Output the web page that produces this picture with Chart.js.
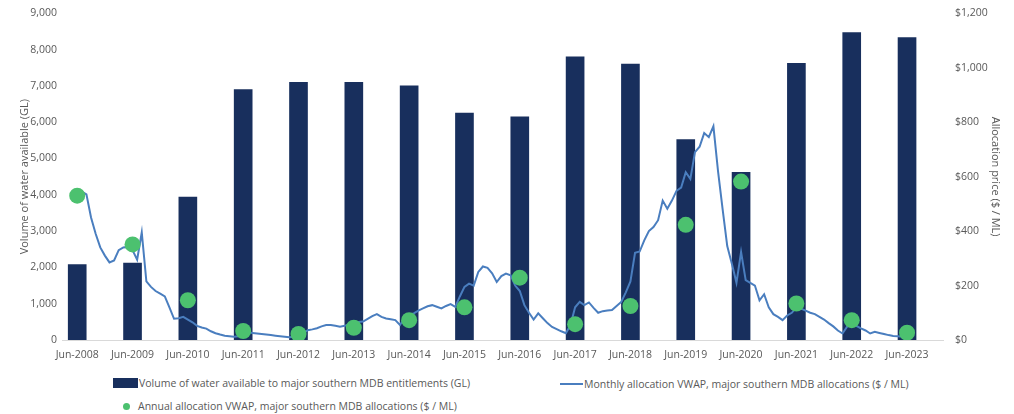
<!DOCTYPE html>
<html>
<head>
<meta charset="utf-8">
<script src="https://cdn.jsdelivr.net/npm/chart.js@4"></script>
<style>
    body { margin: 0; background: #fff; font-family: 'Open Sans', sans-serif; overflow: hidden; }
    #wrap { position: relative; width: 1014px; height: 414px; overflow: hidden; }
    #chartBox { position: absolute; left: 0; top: -5px; width: 1014px; height: 375px; }
    .item { position: absolute; font-size: 10.5px; color: #595959; white-space: nowrap; line-height: 14px; }
    .swatch { display: inline-block; vertical-align: middle; margin-right: 1px; }
</style>
</head>
<body>
<div id="wrap">
    <div id="chartBox"><canvas id="myChart"></canvas></div>
    <div class="item" style="left:113px; top:376px;">
        <span class="swatch" style="width:25px; height:10px; background:#182f5d; margin-top:-2px;"></span>Volume of water available to major southern MDB entitlements (GL)
    </div>
    <div class="item" style="left:560px; top:377px;">
        <span class="swatch" style="width:23px; height:2px; background:#4a7ebf; margin-top:-2px;"></span>Monthly allocation VWAP, major southern MDB allocations ($ / ML)
    </div>
    <div class="item" style="left:123px; top:399px;">
        <span class="swatch" style="width:7px; height:7px; border-radius:50%; background:#4cc16f; margin-right:8px; margin-top:-2px;"></span>Annual allocation VWAP, major southern MDB allocations ($ / ML)
    </div>
</div>

<script>
// June of each year, 2008 to 2023
const yearLabels = ['Jun-2008', 'Jun-2009', 'Jun-2010', 'Jun-2011', 'Jun-2012', 'Jun-2013', 'Jun-2014', 'Jun-2015',
    'Jun-2016', 'Jun-2017', 'Jun-2018', 'Jun-2019', 'Jun-2020', 'Jun-2021', 'Jun-2022', 'Jun-2023'];

// GL available to major southern MDB entitlements
const waterVolume = [2080, 2120, 3940, 6900, 7100, 7100, 7000, 6250, 6150, 7800, 7600, 5520, 4620, 7620, 8470, 8330];

// annual VWAP ($ / ML)
const annualVwap = [530, 351, 146, 33, 22, 45, 73, 120, 229, 58, 125, 423, 582, 134, 73, 27];

// monthly VWAP ($ / ML), Jun-2008 .. Jun-2023
const monthlyVwap = [
    540, 545, 535, 450, 390, 340, 310, 285, 292, 330, 340, 342,
    330, 295, 395, 215, 195, 180, 170, 160, 120, 78, 80, 85,
    75, 65, 52, 46, 42, 32, 25, 20, 16, 14, 12, 14,
    22, 28, 26, 24, 22, 20, 18, 16, 14, 12, 10, 12,
    18, 25, 36, 39, 43, 50, 55, 55, 52, 49, 52, 58,
    62, 66, 68, 78, 88, 95, 85, 79, 76, 73, 55, 80,
    92, 98, 108, 116, 124, 128, 122, 116, 125, 132, 122, 160,
    195, 207, 200, 250, 270, 265, 245, 213, 235, 244, 238, 200,
    180, 128, 100, 75, 98, 80, 62, 48, 40, 32, 25, 55,
    120, 140, 128, 138, 118, 100, 106, 108, 110, 125, 140, 175,
    215, 320, 325, 366, 400, 415, 440, 512, 482, 512, 548, 560,
    616, 592, 690, 710, 760, 745, 785, 620, 480, 345, 280, 210,
    323, 220, 210, 200, 146, 168, 120, 95, 85, 73, 90, 100,
    120, 115, 108, 100, 95, 85, 75, 62, 50, 35, 24, 49,
    62, 52, 43, 35, 24, 30, 26, 22, 18, 15, 14, 12,
    12
];

window.onload = function () {
    crearGrafico();
};

function crearGrafico() {
    const ctx = document.getElementById('myChart').getContext('2d');

    Chart.defaults.font.family = "'Open Sans', sans-serif";
    Chart.defaults.font.size = 10.5;
    Chart.defaults.color = '#595959';

    // x is months since Jun-2008
    const barPoints = waterVolume.map((v, i) => ({ x: i * 12, y: v }));
    const dotPoints = annualVwap.map((v, i) => ({ x: i * 12, y: v }));
    const linePoints = monthlyVwap.map((v, i) => ({ x: i, y: v }));

    new Chart(ctx, {
        type: 'bar',
        data: {
            datasets: [
                {
                    label: 'Volume of water available to major southern MDB entitlements (GL)',
                    data: barPoints,
                    backgroundColor: '#182f5d',
                    barThickness: 18,
                    yAxisID: 'y',
                    order: 3
                },
                {
                    type: 'line',
                    label: 'Monthly allocation VWAP, major southern MDB allocations ($ / ML)',
                    data: linePoints,
                    borderColor: '#4a7ebf',
                    borderWidth: 2,
                    pointRadius: 0,
                    tension: 0,
                    yAxisID: 'y1',
                    order: 2
                },
                {
                    type: 'scatter',
                    label: 'Annual allocation VWAP, major southern MDB allocations ($ / ML)',
                    data: dotPoints,
                    backgroundColor: '#4cc16f',
                    borderWidth: 0,
                    pointRadius: 8,
                    yAxisID: 'y1',
                    order: 1
                }
            ]
        },
        options: {
            responsive: true,
            maintainAspectRatio: false,
            animation: false,
            layout: { padding: { top: 0 } },
            plugins: {
                legend: { display: false },
                tooltip: { enabled: false }
            },
            scales: {
                x: {
                    type: 'linear',
                    offset: false,
                    min: -3.3,
                    max: 187.8,
                    grid: { display: false, drawTicks: false },
                    border: { color: '#d9d9d9' },
                    afterBuildTicks: function (scale) {
                        scale.ticks = yearLabels.map((l, i) => ({ value: i * 12 }));
                    },
                    afterFit: function (scale) {
                        scale.height = 30;
                    },
                    ticks: {
                        autoSkip: false,
                        maxRotation: 0,
                        padding: 9,
                        callback: (v, i) => yearLabels[i]
                    }
                },
                y: {
                    position: 'left',
                    min: 0,
                    max: 9000,
                    grid: { display: false, drawTicks: false },
                    border: { display: false },
                    afterFit: function (scale) {
                        scale.width = 62;
                    },
                    ticks: {
                        stepSize: 1000,
                        padding: 5,
                        callback: v => v.toLocaleString('en-US')
                    },
                    title: {
                        display: true,
                        text: 'Volume of water available (GL)',
                        font: { size: 11 },
                        padding: { top: 18, bottom: 0 }
                    }
                },
                y1: {
                    position: 'right',
                    min: 0,
                    max: 1200,
                    grid: { display: false, drawTicks: false },
                    border: { display: false },
                    afterFit: function (scale) {
                        scale.width = 71;
                    },
                    ticks: {
                        stepSize: 200,
                        padding: 12,
                        callback: v => '$' + v.toLocaleString('en-US')
                    },
                    title: {
                        display: true,
                        text: 'Allocation price ($ / ML)',
                        font: { size: 11 },
                        padding: { top: 12, bottom: 0 }
                    }
                }
            }
        }
    });
}
</script>
</body>
</html>
